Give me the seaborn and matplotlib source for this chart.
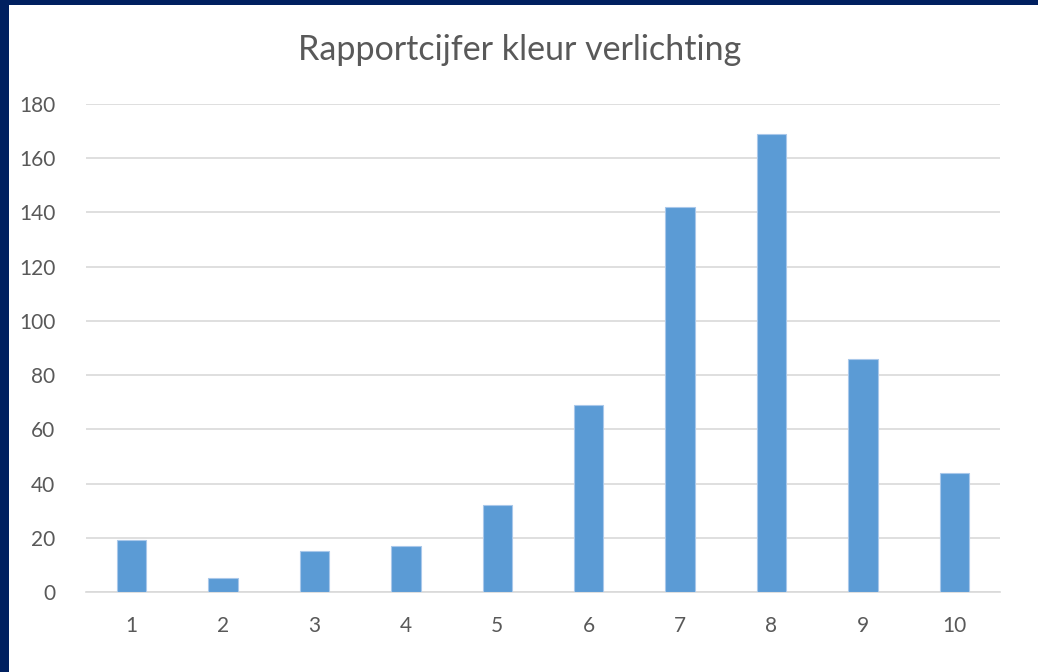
import matplotlib
matplotlib.use("Agg")
import matplotlib.pyplot as plt
import seaborn as sns
import pandas as pd
from matplotlib.patches import Rectangle

categories = ["1", "2", "3", "4", "5", "6", "7", "8", "9", "10"]
values = [19, 5, 15, 17, 32, 69, 142, 169, 86, 44]
yticks = [0, 20, 40, 60, 80, 100, 120, 140, 160, 180]
title = "Rapportcijfer kleur verlichting"

sns.set_theme(style="white")
plt.rcParams['font.family'] = ['Lato', 'DejaVu Sans']

df = pd.DataFrame({"cat": categories, "val": values})

fig = plt.figure(figsize=(10.38, 6.72), dpi=100)
fig.patch.set_facecolor("white")
ax = fig.add_axes([86/1038, 1-592/672, (1000-86)/1038, (592-104)/672])

sns.barplot(data=df, x="cat", y="val", color="#5B9BD5", width=0.32, ax=ax,
            edgecolor="#A9C8EA", linewidth=0.8, saturation=1, zorder=3)

ax.set_ylim(0, 180)
ax.set_xlim(-0.5, 9.5)
ax.set_yticks(yticks)
ax.yaxis.grid(True, color="#D9D9D9", linewidth=1.2, zorder=0)
ax.set_axisbelow(True)
for s in ["top", "right", "left"]:
    ax.spines[s].set_visible(False)
ax.spines["bottom"].set_color("#D9D9D9")
ax.spines["bottom"].set_linewidth(1.2)
ax.set_xlabel("")
ax.set_ylabel("")
ax.tick_params(axis="y", length=0, pad=22, labelsize=15, labelcolor="#595959")
ax.tick_params(axis="x", length=0, pad=17, labelsize=15, labelcolor="#595959")

fig.text(520/1038, 1-50/672, title, ha="center", va="center", fontsize=24.5, color="#595959")

fig.patches.append(Rectangle((0, 0), 9/1038, 1, transform=fig.transFigure,
                             facecolor="#002060", edgecolor="none", zorder=10))
fig.patches.append(Rectangle((0, 1-5/672), 1, 5/672, transform=fig.transFigure,
                             facecolor="#002060", edgecolor="none", zorder=10))

fig.savefig("out.png", dpi=100, facecolor="white")
